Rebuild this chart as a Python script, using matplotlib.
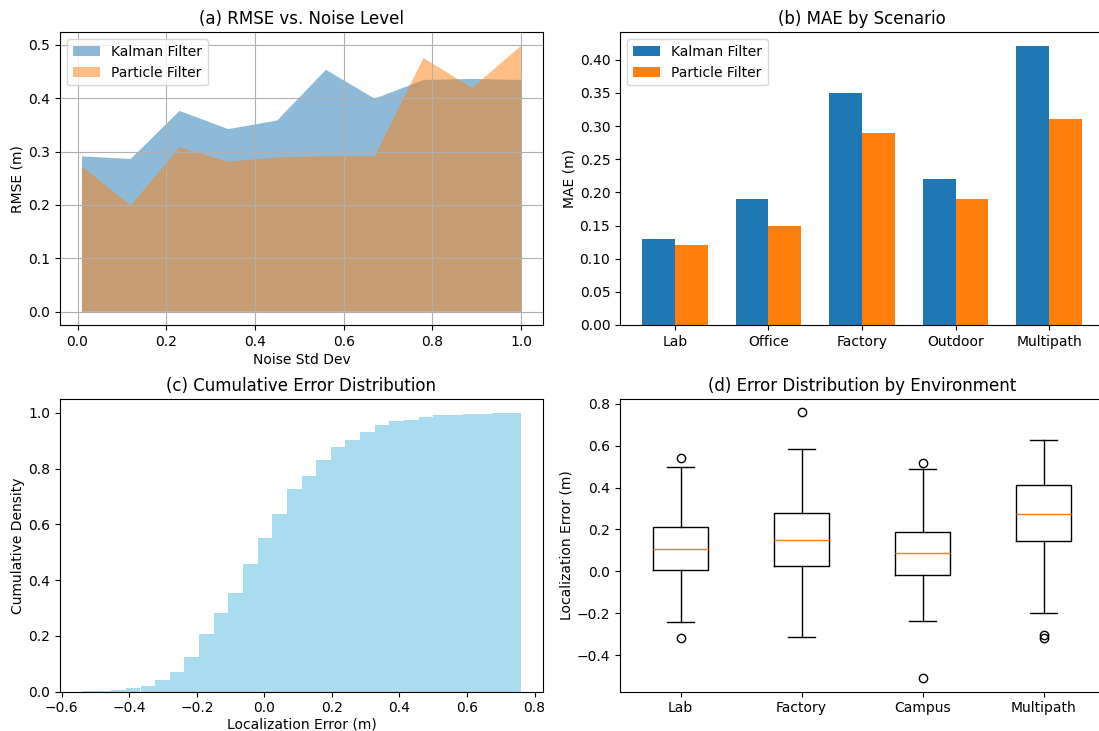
import numpy as np
import matplotlib
matplotlib.use("Agg")
import matplotlib.pyplot as plt

# (a) RMSE vs noise level
noise_std = [0.01, 0.12, 0.23, 0.34, 0.45, 0.56, 0.67, 0.78, 0.89, 1.00]
rmse_kf = [0.291, 0.286, 0.376, 0.342, 0.358, 0.453, 0.399, 0.434, 0.436, 0.434]
rmse_pf = [0.272, 0.199, 0.308, 0.281, 0.289, 0.291, 0.291, 0.475, 0.419, 0.498]

# (b) MAE by scenario
scenarios = ["Lab", "Office", "Factory", "Outdoor", "Multipath"]
mae_kf = [0.13, 0.19, 0.35, 0.22, 0.42]
mae_pf = [0.12, 0.15, 0.29, 0.19, 0.31]

# (c) cumulative error distribution (30 bins)
err_min, err_max, n_bins = -0.54, 0.76, 30
cum_density = [0.0005, 0.002, 0.007, 0.012, 0.018, 0.043, 0.071, 0.125, 0.206, 0.283,
               0.354, 0.459, 0.552, 0.637, 0.727, 0.773, 0.832, 0.877, 0.904, 0.932,
               0.955, 0.971, 0.976, 0.986, 0.992, 0.993, 0.995, 0.997, 0.998, 1.000]

# (d) box stats by environment
envs = ["Lab", "Factory", "Campus", "Multipath"]
q1 = [0.008, 0.027, -0.019, 0.145]
med = [0.105, 0.150, 0.086, 0.276]
q3 = [0.210, 0.280, 0.186, 0.414]
whis_lo = [-0.244, -0.314, -0.239, -0.198]
whis_hi = [0.497, 0.585, 0.489, 0.629]
fliers = [[0.542, -0.316], [0.759], [0.516, -0.510], [-0.306, -0.317]]

W, H = 1099, 731
fig = plt.figure(figsize=(W / 100, H / 100), dpi=100)


def add_ax(left, top, right, bottom):
    return fig.add_axes([left / W, 1 - bottom / H, (right - left) / W, (bottom - top) / H])


ax1 = add_ax(60, 32.5, 543, 325)
ax2 = add_ax(620, 32.5, 1104, 325)
ax3 = add_ax(60, 399, 543, 691.5)
ax4 = add_ax(620, 399, 1104, 691.5)

# (a)
ax1.fill_between(noise_std, rmse_kf, alpha=0.5, label="Kalman Filter")
ax1.fill_between(noise_std, rmse_pf, alpha=0.5, label="Particle Filter")
ax1.set_title("(a) RMSE vs. Noise Level")
ax1.set_xlabel("Noise Std Dev", labelpad=3)
ax1.set_ylabel("RMSE (m)", labelpad=2.5)
ax1.legend(loc="upper left")
ax1.grid(True)

# (b)
x = np.arange(len(scenarios))
w = 0.35
ax2.bar(x - w / 2, mae_kf, w, label="Kalman Filter")
ax2.bar(x + w / 2, mae_pf, w, label="Particle Filter")
ax2.set_xticks(x)
ax2.set_xticklabels(scenarios)
ax2.set_title("(b) MAE by Scenario")
ax2.set_ylabel("MAE (m)", labelpad=2.5)
ax2.legend(loc="upper left")

# (c)
edges = np.linspace(err_min, err_max, n_bins + 1)
ax3.hist(edges[:-1], bins=edges, weights=cum_density, color="skyblue", alpha=0.7)
ax3.set_title("(c) Cumulative Error Distribution")
ax3.set_xlabel("Localization Error (m)", labelpad=2)
ax3.set_ylabel("Cumulative Density", labelpad=2.5)

# (d)
stats = []
for i, name in enumerate(envs):
    stats.append(dict(label=name, q1=q1[i], med=med[i], q3=q3[i],
                      whislo=whis_lo[i], whishi=whis_hi[i], fliers=fliers[i]))
ax4.bxp(stats)
ax4.set_title("(d) Error Distribution by Environment")
ax4.set_ylabel("Localization Error (m)", labelpad=2.5)

fig.savefig("out.png", dpi=100)
